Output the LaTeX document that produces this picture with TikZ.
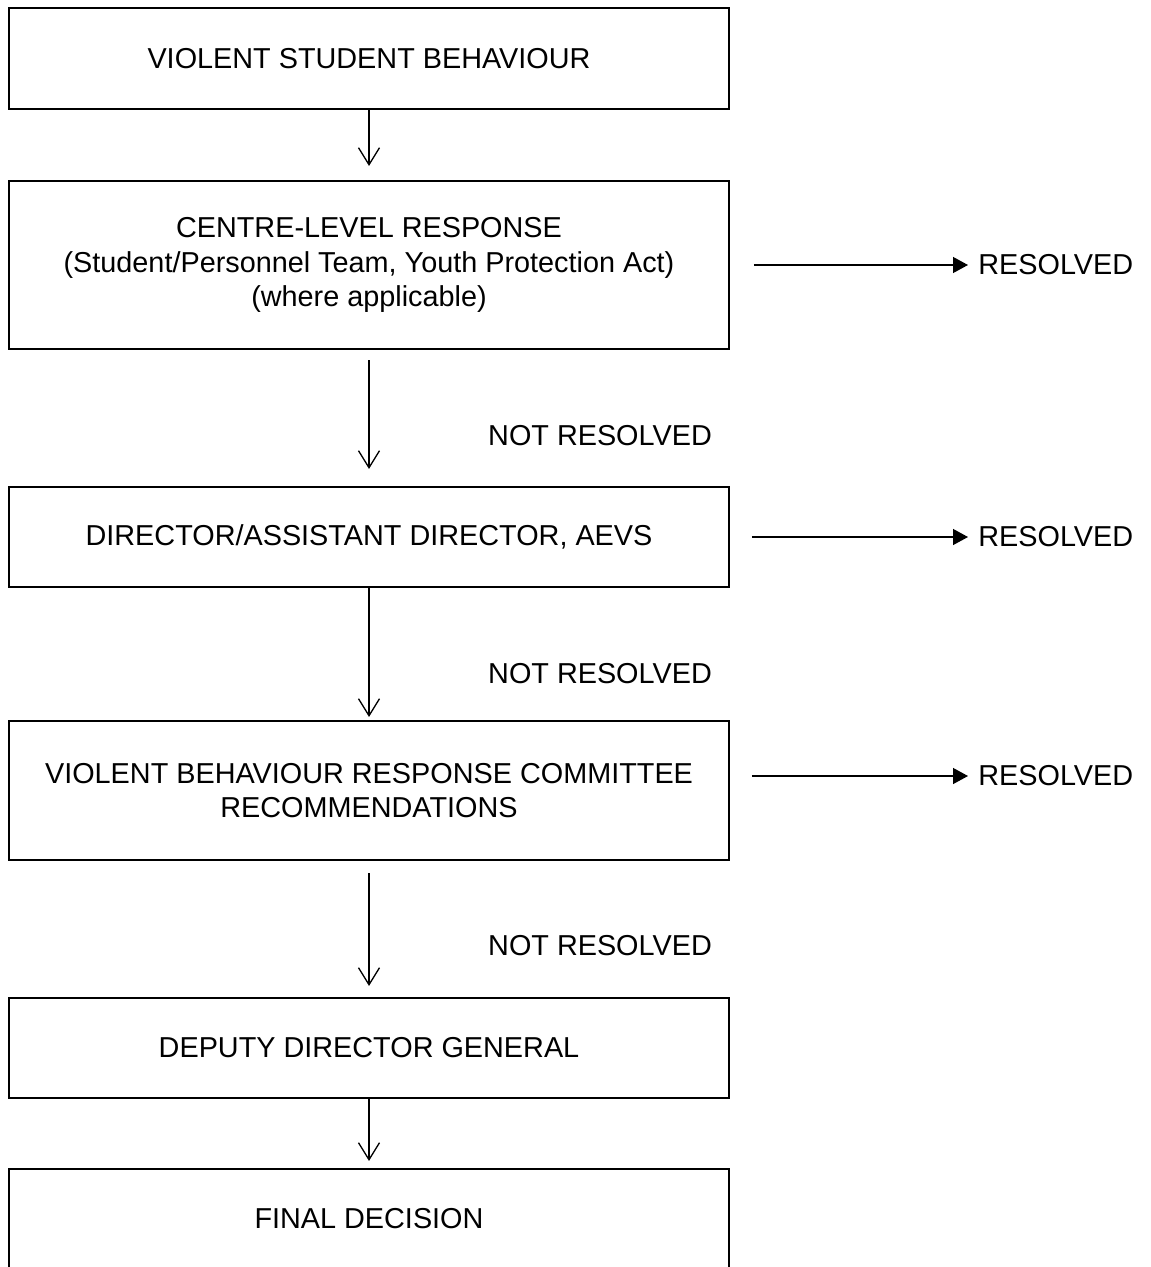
\documentclass[tikz,border=0pt]{standalone}
\usepackage{fontspec}
\setmainfont{Liberation Sans}
\usetikzlibrary{arrows.meta,positioning}
\tikzset{
  stagebox/.style={draw, line width=1.2pt, minimum width=14.4cm, align=center,
    inner sep=0pt, font=\fontsize{16.4}{19.4}\selectfont},
  outlabel/.style={inner sep=0pt, font=\fontsize{16.4}{19.4}\selectfont},
  downarr/.style={-{Straight Barb[length=0.34cm,width=0.42cm]}, line width=0.75pt},
  sidearr/.style={-{Triangle[length=0.3cm,width=0.32cm]}, line width=0.75pt}
}
\begin{document}
\begin{tikzpicture}[x=0.02cm,y=-0.02cm]
  \useasboundingbox (0,0) rectangle (1150,1267);
  \node[stagebox, minimum height=2.02cm] (behav) at (369,58.5) {VIOLENT STUDENT BEHAVIOUR};
  \node[stagebox, minimum height=3.36cm] (centre) at (369,265) {CENTRE-LEVEL RESPONSE\\(Student/Personnel Team, Youth Protection Act)\\(where applicable)};
  \node[stagebox, minimum height=2.0cm] (director) at (369,537) {DIRECTOR/ASSISTANT DIRECTOR, AEVS};
  \node[stagebox, minimum height=2.78cm] (committee) at (369,790.5) {VIOLENT BEHAVIOUR RESPONSE COMMITTEE\\RECOMMENDATIONS};
  \node[stagebox, minimum height=2.0cm] (deputy) at (369,1048) {DEPUTY DIRECTOR GENERAL};
  \node[stagebox, minimum height=2.0cm] (final) at (369,1219) {FINAL DECISION};

  \node[outlabel, anchor=west] (res1) at (978,265) {RESOLVED};
  \node[outlabel, anchor=west] (res2) at (978,537) {RESOLVED};
  \node[outlabel, anchor=west] (res3) at (978,776) {RESOLVED};
  \node[outlabel] (notres1) at (600,436) {NOT RESOLVED};
  \node[outlabel] (notres2) at (600,674) {NOT RESOLVED};
  \node[outlabel] (notres3) at (600,946) {NOT RESOLVED};

  \draw[downarr, shorten >=0.28cm] (behav) -- (centre);
  \draw[downarr, shorten <=0.2cm, shorten >=0.34cm] (centre) -- (director);
  \draw[downarr, shorten >=0.06cm] (director) -- (committee);
  \draw[downarr, shorten <=0.24cm, shorten >=0.22cm] (committee) -- (deputy);
  \draw[downarr, shorten >=0.14cm] (deputy) -- (final);

  \draw[sidearr, shorten <=0.48cm, shorten >=0.2cm] (centre.east |- res1) -- (res1);
  \draw[sidearr, shorten <=0.44cm, shorten >=0.2cm] (director.east |- res2) -- (res2);
  \draw[sidearr, shorten <=0.44cm, shorten >=0.2cm] (committee.east |- res3) -- (res3);
\end{tikzpicture}
\end{document}
